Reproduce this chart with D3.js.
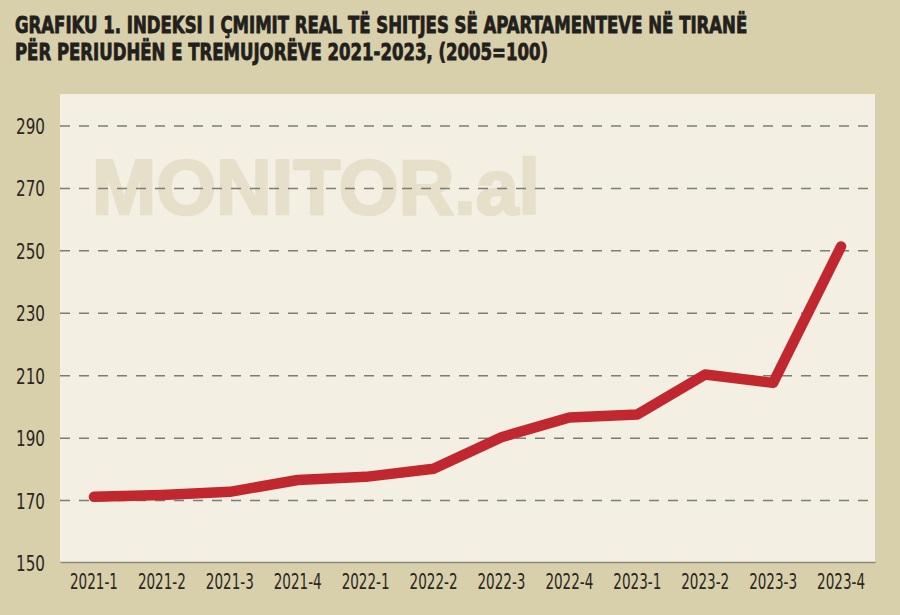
<!DOCTYPE html>
<meta charset="utf-8">
<style>
body { margin: 0; background: #d8cfab; }
svg { display: block; }
.title { font-family: "Liberation Sans Narrow", "DejaVu Sans Condensed", Arial; font-weight: bold; font-size: 23px; fill: #231f1c; stroke: #231f1c; stroke-width: 0.8; }
.tick text { font-family: "Liberation Sans Narrow", "DejaVu Sans Condensed", Arial; font-size: 21px; fill: #2a2622; }
.grid line { stroke: #7e7c76; stroke-width: 1.5; stroke-dasharray: 10,9; }
</style>
<body>
<div id="chart"></div>
<script src="https://d3js.org/d3.v7.min.js"></script>
<script>

var quarters = ["2021-1","2021-2","2021-3","2021-4","2022-1","2022-2","2022-3","2022-4","2023-1","2023-2","2023-3","2023-4"];
var indexValues = [171.2, 171.8, 172.8, 176.6, 177.6, 180.2, 190.3, 196.6, 197.6, 210.4, 207.7, 251.4];
var yTicks = [150, 170, 190, 210, 230, 250, 270, 290];
var titleLines = ["GRAFIKU 1. INDEKSI I ÇMIMIT REAL TË SHITJES SË APARTAMENTEVE NË TIRANË",
                  "PËR PERIUDHËN E TREMUJORËVE 2021-2023, (2005=100)"];

var width = 900, height = 615,
    plot = {left: 60, right: 875, top: 94, bottom: 562};

var svg = d3.select("#chart").append("svg")
    .attr("width", width)
    .attr("height", height);

svg.append("rect")
    .attr("width", width).attr("height", height)
    .attr("fill", "#d8cfab");

// title (squeezed horizontally to look like a condensed face)
var titleG = svg.append("g")
    .attr("transform", "translate(15,0) scale(0.8,1)");
titleG.selectAll(".title")
  .data(titleLines)
  .enter().append("text")
  .attr("class", "title")
  .attr("x", 0)
  .attr("y", (d, i) => 33 + i * 27)
  .text(d => d);

// plot area
svg.append("rect")
    .attr("x", plot.left).attr("y", plot.top)
    .attr("width", plot.right - plot.left)
    .attr("height", plot.bottom - plot.top)
    .attr("fill", "#f3f0e3");

var x = d3.scaleBand().domain(quarters).range([plot.left, plot.right]).padding(0);
var y = d3.scaleLinear().domain([150, 290]).range([563, 126]);

// watermark
svg.append("text")
    .attr("x", 92).attr("y", 214)
    .style("font-family", "'Liberation Sans', Arial")
    .style("font-weight", "bold")
    .style("font-size", "77px")
    .attr("fill", "#e6dfca")
    .attr("stroke", "#e6dfca")
    .attr("stroke-width", 2.5)
    .attr("textLength", 448)
    .attr("lengthAdjust", "spacingAndGlyphs")
    .text("MONITOR.al");

// gridlines
svg.append("g")
    .attr("class", "grid")
    .selectAll("line")
    .data(yTicks.filter(d => d > 150))
    .enter().append("line")
    .attr("x1", plot.left).attr("x2", plot.right)
    .attr("y1", d => y(d)).attr("y2", d => y(d));

// y axis labels
var yAxis = svg.append("g")
    .attr("transform", "translate(" + (plot.left - 15) + ",0)")
    .call(d3.axisLeft(y).tickValues(yTicks).tickSize(0).tickPadding(0));
yAxis.select(".domain").remove();
yAxis.selectAll("text")
    .attr("dy", "0.36em")
    .attr("textLength", 29)
    .attr("lengthAdjust", "spacingAndGlyphs");

// x axis
var xAxis = svg.append("g")
    .attr("transform", "translate(0," + plot.bottom + ")")
    .call(d3.axisBottom(x).tickSize(0).tickPadding(12));
xAxis.select(".domain").attr("stroke", "#8a8880").attr("stroke-width", 1.5);
xAxis.selectAll("text")
    .attr("dy", "0.71em")
    .attr("textLength", 48)
    .attr("lengthAdjust", "spacingAndGlyphs");

// line
var line = d3.line()
    .x((d, i) => x(quarters[i]) + x.bandwidth() / 2)
    .y(d => y(d));

svg.append("path")
    .datum(indexValues)
    .attr("d", line)
    .attr("fill", "none")
    .attr("stroke", "#c1272f")
    .attr("stroke-width", 10.5)
    .attr("stroke-linecap", "round")
    .attr("stroke-linejoin", "round");

</script>
</body>
